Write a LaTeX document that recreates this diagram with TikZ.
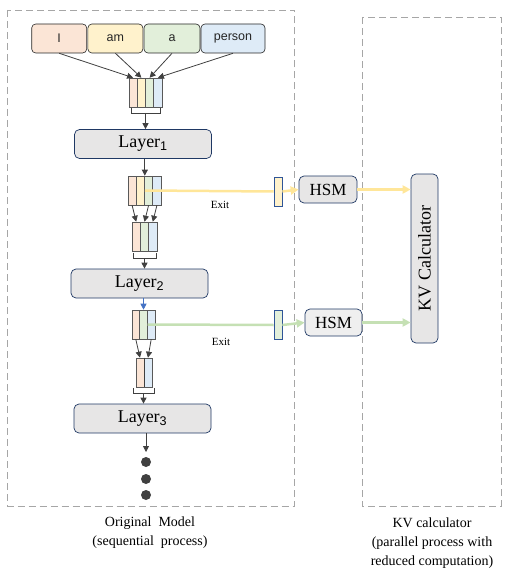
\documentclass[tikz,border=0pt]{standalone}
\usepackage{fontspec}
\setmainfont{Liberation Serif}
\setsansfont{Liberation Sans}
\usetikzlibrary{arrows.meta}
\definecolor{cor}{HTML}{FBE5D6}
\definecolor{cye}{HTML}{FFF2CC}
\definecolor{cgr}{HTML}{E2EFDA}
\definecolor{cbl}{HTML}{DEEBF7}
\definecolor{navy}{HTML}{1F3864}
\definecolor{rectblue}{HTML}{2F5597}
\definecolor{lgray}{HTML}{E7E6E6}
\definecolor{llgray}{HTML}{EFEFEF}
\definecolor{dgray}{HTML}{404040}
\definecolor{ylw}{HTML}{FFE699}
\definecolor{grn}{HTML}{C5E0B4}
\definecolor{bluea}{HTML}{4472C4}
\definecolor{dashgray}{HTML}{A6A6A6}
\begin{document}
\begin{tikzpicture}[x=1pt,y=-1pt,
  token/.style={draw=black!85, rounded corners=4pt, minimum height=29pt, inner sep=0pt,
    font=\sffamily\fontsize{12.5}{14}\selectfont, text=black!85, line width=0.6pt},
  cell/.style={draw=black!65, minimum height=29pt, inner sep=0pt, line width=0.6pt},
  layerbox/.style={draw=navy, fill=lgray, rounded corners=5pt, minimum height=29pt,
    minimum width=137pt, inner sep=0pt, font=\fontsize{18}{20}\selectfont, line width=0.7pt},
  hsm/.style={draw=navy, fill=lgray, rounded corners=5pt, minimum height=27pt,
    inner sep=0pt, font=\fontsize{17}{19}\selectfont, line width=0.7pt},
  smallrect/.style={draw=rectblue, minimum width=8pt, minimum height=29pt, inner sep=0pt, line width=0.8pt},
  arr/.style={draw=dgray, line width=0.8pt, -{Triangle[length=6pt,width=6pt]}},
  arrb/.style={draw=bluea, line width=0.8pt, -{Triangle[length=6pt,width=6pt]}},
  brk/.style={draw=dgray, line width=0.7pt},
  yline/.style={draw=ylw, line width=2.5pt},
  gline/.style={draw=grn, line width=2.5pt},
  yarr/.style={draw=ylw, line width=2.5pt, -{Triangle[length=8pt,width=8pt]}},
  garr/.style={draw=grn, line width=2.5pt, -{Triangle[length=8pt,width=8pt]}},
  dbox/.style={draw=dashgray, dash pattern=on 7pt off 4pt, line width=0.8pt},
  dotnode/.style={circle, fill=dgray, minimum size=10pt, inner sep=0pt},
  exitlbl/.style={font=\fontsize{11}{13}\selectfont, inner sep=0pt},
  lbl/.style={align=center, font=\fontsize{14}{19}\selectfont, inner sep=0pt}
]
\useasboundingbox (0,0) rectangle (512,572);

% dashed frames
\draw[dbox] (7.5,10) rectangle (294,506);
\draw[dbox] (362,17) rectangle (501,506);

% tokens
\node[token, fill=cor, minimum width=55pt] (tI) at (59.2,38.5) {I};
\node[token, fill=cye, minimum width=55pt] (tam) at (115.4,38.5) {am};
\node[token, fill=cgr, minimum width=56pt] (ta) at (172,38.5) {a};
\node[token, fill=cbl, minimum width=64pt] (tp) at (233,38.5) {person};

% column 1
\node[cell, fill=cor, minimum width=8.25pt] (c1a) at (133.1,92.5) {};
\node[cell, fill=cye, minimum width=8.25pt] (c1b) at (141.4,92.5) {};
\node[cell, fill=cgr, minimum width=8.25pt] (c1c) at (149.6,92.5) {};
\node[cell, fill=cbl, minimum width=8.25pt] (c1d) at (157.9,92.5) {};
\draw[arr] (tI.south) -- (c1a.north);
\draw[arr] (tam.south) -- (c1b.north);
\draw[arr] (ta.south) -- (c1c.north);
\draw[arr] (tp.south) -- (c1d.north);
\draw[brk] (131,108) -- (131,113) -- (160,113) -- (160,108);
\coordinate (b1) at (145.5,113);

% layer 1
\node[layerbox] (L1) at (143,144) {Layer\textsubscript{\sffamily 1}};
\draw[arr] (b1) -- (b1 |- L1.north);

% column 2
\node[cell, fill=cor, minimum width=8.25pt] (c2a) at (132.1,190.5) {};
\node[cell, fill=cye, minimum width=8.25pt] (c2b) at (140.4,190.5) {};
\node[cell, fill=cgr, minimum width=8.25pt] (c2c) at (148.6,190.5) {};
\node[cell, fill=cbl, minimum width=8.25pt] (c2d) at (156.9,190.5) {};
\draw[arr] (c2b.north east |- L1.south) -- (c2b.north east);

% column 3
\node[cell, fill=cor, minimum width=8.33pt] (c3a) at (136.2,236.5) {};
\node[cell, fill=cgr, minimum width=8.33pt] (c3b) at (144.5,236.5) {};
\node[cell, fill=cbl, minimum width=8.33pt] (c3c) at (152.8,236.5) {};
\draw[arr] (c2a.south) -- (c3a.north);
\draw[arr] (c2c.south) -- (c3b.north);
\draw[arr] (c2d.south) -- (c3c.north);
\draw[brk] (133,253) -- (133,258) -- (156,258) -- (156,253);
\coordinate (b3) at (144.5,258);

% layer 2
\node[layerbox] (L2) at (139.5,283.5) {Layer\textsubscript{\sffamily 2}};
\draw[arr] (b3) -- (b3 |- L2.north);

% column 4
\node[cell, fill=cor, minimum width=7.67pt] (c4a) at (135.8,324.5) {};
\node[cell, fill=cgr, minimum width=7.67pt] (c4b) at (143.5,324.5) {};
\node[cell, fill=cbl, minimum width=7.67pt] (c4c) at (151.2,324.5) {};
\draw[arrb] (c4b.north |- L2.south) -- (c4b.north);

% column 5
\node[cell, fill=cor, minimum width=8pt] (c5a) at (140,372.5) {};
\node[cell, fill=cbl, minimum width=8pt] (c5b) at (148,372.5) {};
\draw[draw=dgray, line width=1.6pt] (c5a.north east) -- (c5a.south east);
\draw[arr] (c4a.south) -- (c5a.north);
\draw[arr] (c4c.south) -- (c5b.north);
\draw[brk] (133,388) -- (133,393) -- (154,393) -- (154,388);
\coordinate (b5) at (143.5,393);

% layer 3
\node[layerbox] (L3) at (142.5,418.5) {Layer\textsubscript{\sffamily 3}};
\draw[arr] (b5) -- (b5 |- L3.north);
\coordinate (dtop) at (146,452);
\draw[arr] (dtop |- L3.south) -- (dtop);
\node[dotnode] (d1) at (146,462) {};
\node[dotnode] (d2) at (146,479) {};
\node[dotnode] (d3) at (146,495) {};

% KV calculator
\node[draw=navy, fill=lgray, rounded corners=5pt, minimum width=169pt, minimum height=27pt,
  inner sep=0pt, rotate=90, font=\fontsize{18}{20}\selectfont, line width=0.7pt] (KV) at (424.5,258.5) {KV Calculator};

% yellow exit
\node[smallrect, fill=cye] (yr) at (278,191.5) {};
\node[hsm, minimum width=58pt] (H1) at (328,189.5) {HSM};
\draw[yline] (c2b.east) -- (yr.west);
\draw[yarr] (yr.east) -- (H1.west);
\draw[yarr] (H1.east) -- (H1.east -| KV.north);
\node[exitlbl] (e1) at (220,205) {Exit};

% green exit
\node[smallrect, fill=cgr] (gr) at (278,325) {};
\node[hsm, fill=llgray, minimum width=57pt] (H2) at (333.5,322.5) {HSM};
\draw[gline] (c4b.east) -- (gr.west);
\draw[garr] (gr.east) -- (H2.west);
\draw[garr] (H2.east) -- (H2.east -| KV.north);
\node[exitlbl] (e2) at (221,342) {Exit};

% captions
\node[lbl] (lab1) at (150,532.5) {Original\ \ Model\\(sequential\ \ process)};
\node[lbl] (lab2) at (432,543) {KV calculator\\(parallel process with\\reduced computation)};
\end{tikzpicture}
\end{document}
